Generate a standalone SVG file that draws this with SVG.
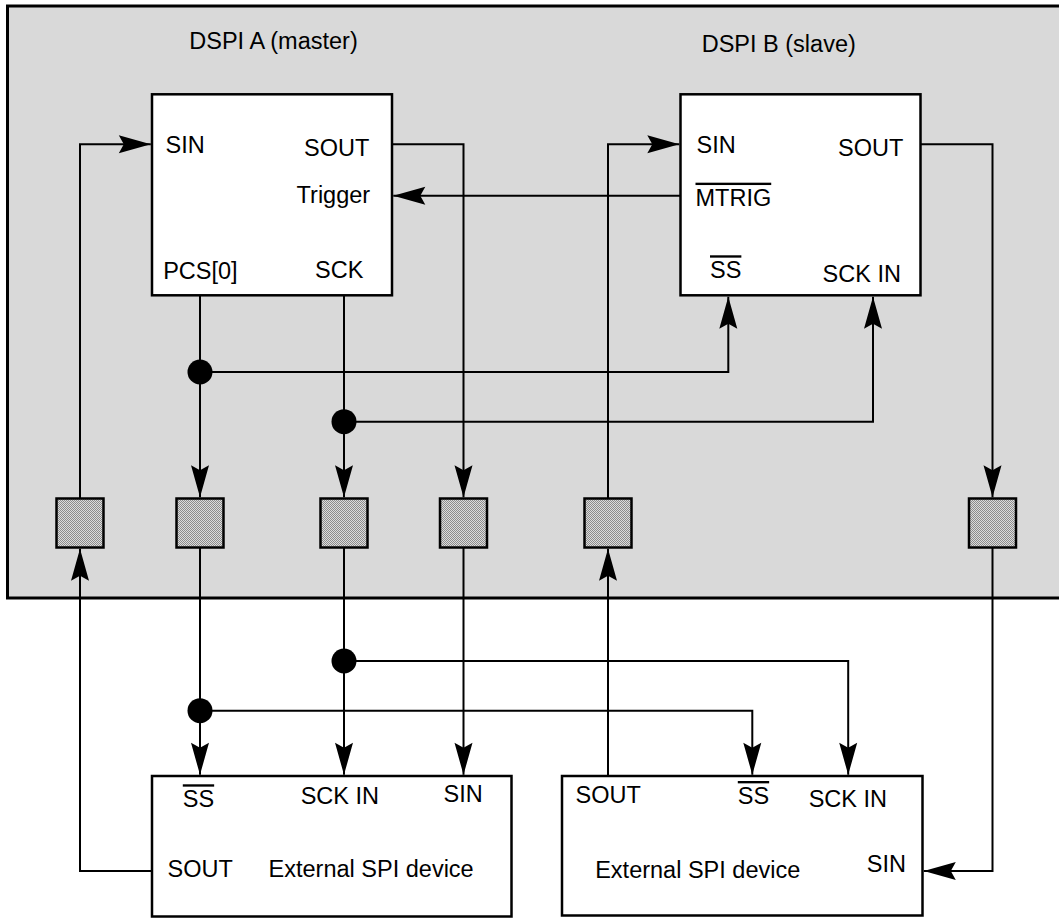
<svg xmlns="http://www.w3.org/2000/svg" width="1059" height="918" viewBox="0 0 1059 918">
<style>
.t{font-family:"Liberation Sans",Arial,sans-serif;font-size:23.5px;fill:#000}
.ov{text-decoration:overline}
.box{fill:#fff;stroke:#000;stroke-width:2.5}
.pad{fill:url(#dots);stroke:#000;stroke-width:2.5}
.w{fill:none;stroke:#000;stroke-width:2}
.a{marker-end:url(#arr)}
.dot{fill:#000}
</style>
<defs>
<pattern id="dots" width="2" height="2" patternUnits="userSpaceOnUse">
<rect width="2" height="2" fill="#dcdcdc"/>
<rect width="1" height="1" fill="#8c8c8c"/>
<rect x="1" y="1" width="1" height="1" fill="#8c8c8c"/>
</pattern>
<marker id="arr" markerUnits="userSpaceOnUse" markerWidth="40" markerHeight="22" viewBox="-34 -11 40 22" refX="0" refY="0" orient="auto">
<path d="M0,0 L-32,-9 L-27,0 L-32,9 Z" fill="#000"/>
</marker>
</defs>
<rect id="chip" x="7.5" y="6" width="1060" height="592" fill="#d9d9d9" stroke="#000" stroke-width="3"/>
<text class="t" x="189.3" y="49.3">DSPI A (master)</text>
<text class="t" x="701.7" y="52.3">DSPI B (slave)</text>
<g id="dspiA">
<rect class="box" x="152" y="94.3" width="240" height="201"/>
<text class="t" x="165.5" y="153.3">SIN</text>
<text class="t" x="304" y="156">SOUT</text>
<text class="t" x="296.6" y="203.3">Trigger</text>
<text class="t" x="163.2" y="279.3">PCS[0]</text>
<text class="t" x="315" y="278.3">SCK</text>
</g>
<g id="dspiB">
<rect class="box" x="680.5" y="94.3" width="240" height="201"/>
<text class="t" x="696.6" y="153.3">SIN</text>
<text class="t" x="838" y="156">SOUT</text>
<text class="t ov" x="695.5" y="205.7">MTRIG</text>
<text class="t ov" x="710" y="278.3">SS</text>
<text class="t" x="822.6" y="281.7">SCK IN</text>
</g>
<g id="pads">
<rect id="pad1" class="pad" x="56.5" y="498.5" width="47" height="49"/>
<rect id="pad2" class="pad" x="176.5" y="498.5" width="47" height="49"/>
<rect id="pad3" class="pad" x="320.5" y="498.5" width="47" height="49"/>
<rect id="pad4" class="pad" x="440" y="498.5" width="47" height="49"/>
<rect id="pad5" class="pad" x="584.5" y="498.5" width="47" height="49"/>
<rect id="pad6" class="pad" x="969" y="498.5" width="47" height="49"/>
</g>
<g id="ext1">
<rect class="box" x="152" y="776" width="359.5" height="140.5"/>
<text class="t ov" x="182.8" y="807.3">SS</text>
<text class="t" x="300.7" y="804.3">SCK IN</text>
<text class="t" x="443.6" y="801.7">SIN</text>
<text class="t" x="167.5" y="876.7">SOUT</text>
<text class="t" x="268.6" y="876.7">External SPI device</text>
</g>
<g id="ext2">
<rect class="box" x="562" y="776" width="360.5" height="139.5"/>
<text class="t" x="575.6" y="802.7">SOUT</text>
<text class="t ov" x="737.8" y="804">SS</text>
<text class="t" x="808.7" y="806.7">SCK IN</text>
<text class="t" x="595.2" y="878.3">External SPI device</text>
<text class="t" x="866.8" y="871.7">SIN</text>
</g>
<g id="connectors">
<path class="w a" d="M80,498 V144.3 H150.8"/>
<path class="w a" d="M392,144.3 H463.5 V497.3"/>
<path class="w a" d="M680,195.7 H393.3"/>
<path class="w a" d="M200,295.5 V497.3"/>
<path class="w a" d="M200,372 H728.3 V296.8"/>
<path class="w a" d="M344,295.5 V497.3"/>
<path class="w a" d="M344,421.7 H873 V296.8"/>
<path class="w a" d="M608,498 V144.3 H679.3"/>
<path class="w a" d="M920.5,144.3 H992.5 V497.3"/>
<path class="w a" d="M152,871 H80 V548.8"/>
<path class="w a" d="M200,548 V774.8"/>
<path class="w a" d="M200,710.7 H752.3 V774.8"/>
<path class="w a" d="M344,548 V774.8"/>
<path class="w a" d="M344,661 H848.2 V774.8"/>
<path class="w a" d="M463.5,548 V774.8"/>
<path class="w a" d="M608,776 V548.8"/>
<path class="w a" d="M992.5,548 V871 H923.8"/>
<circle class="dot" cx="200" cy="372" r="12.5"/>
<circle class="dot" cx="344" cy="421.7" r="12.5"/>
<circle class="dot" cx="344" cy="661" r="12.5"/>
<circle class="dot" cx="200" cy="710.7" r="12.5"/>
</g>
</svg>
